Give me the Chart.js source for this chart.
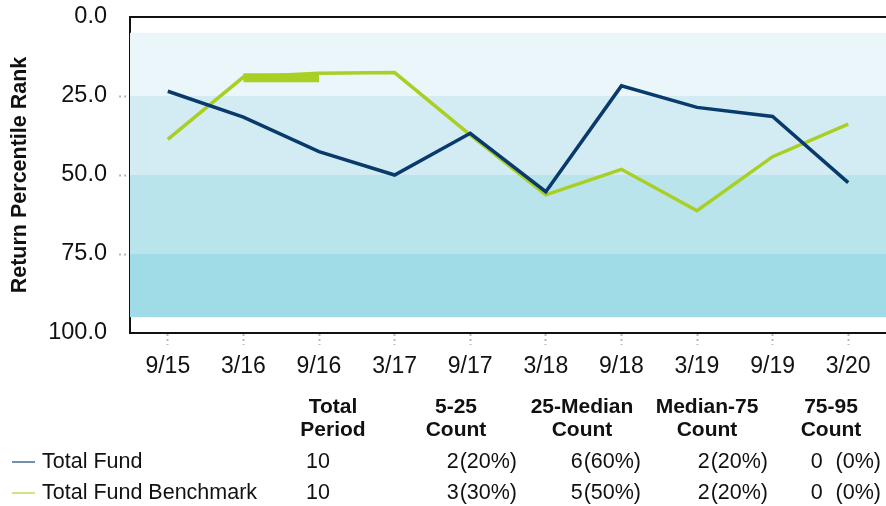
<!DOCTYPE html>
<html>
<head>
<meta charset="utf-8">
<script src="https://cdn.jsdelivr.net/npm/chart.js@4.4.1/dist/chart.umd.min.js"></script>
<style>
  html, body { margin: 0; padding: 0; background: #fff; }
  #wrap { position: relative; width: 886px; height: 506px; }
</style>
</head>
<body>
<div id="wrap"><canvas id="rank-chart" width="886" height="506"></canvas></div>
<script>
// Periods and percentile ranks (0 = best, shown at top)
const periods = ['9/15', '3/16', '9/16', '3/17', '9/17', '3/18', '9/18', '3/19', '9/19', '3/20'];
const totalFund = [23.5, 31.7, 42.6, 50.0, 36.8, 55.3, 21.8, 28.6, 31.5, 52.4];
const benchmark = [38.7, 19.0, 17.8, 17.6, 37.3, 56.3, 48.2, 61.3, 44.2, 33.9];
// odd thick stroke on the benchmark between 3/16 and 9/16
const benchmarkThick = [null, 19.2, 19.2, null, null, null, null, null, null, null];

const yTicks = [0, 25, 50, 75, 100];
const bandEdges = [5, 25, 50, 75, 95];

// Summary table
const seriesNames = ['Total Fund', 'Total Fund Benchmark'];
const totalPeriods = [10, 10];
const tableHeaders = [['Total', 'Period'], ['5-25', 'Count'], ['25-Median', 'Count'], ['Median-75', 'Count'], ['75-95', 'Count']];
const fundCounts = [2, 6, 2, 0];
const benchCounts = [3, 5, 2, 0];

const NAVY = '#083a6c';
const GREEN = '#a9cf24';
const bandColors = ['#eaf6f9', '#d3ecf3', '#bae4ec', '#a0dbe8'];
const FONT = "'Liberation Sans', Arial, sans-serif";

// Shaded percentile bands behind the lines
const bandsPlugin = {
    id: 'bands',
    beforeDatasetsDraw(chart) {
        const { ctx, chartArea, scales } = chart;
        ctx.save();
        for (let i = 0; i < bandEdges.length - 1; i++) {
            const y1 = scales.y.getPixelForValue(bandEdges[i]);
            const y2 = scales.y.getPixelForValue(bandEdges[i + 1]);
            ctx.fillStyle = bandColors[i];
            ctx.fillRect(chartArea.left, y1, chartArea.right - chartArea.left, y2 - y1);
        }
        ctx.restore();
    },
    afterDatasetsDraw(chart) {
        // frame: top line (left and bottom come from the axis borders)
        const { ctx, chartArea } = chart;
        ctx.save();
        ctx.strokeStyle = '#111';
        ctx.lineWidth = 2;
        ctx.beginPath();
        ctx.moveTo(chartArea.left - 1, chartArea.top);
        ctx.lineTo(chartArea.right, chartArea.top);
        ctx.stroke();
        ctx.restore();
    },
};

// Summary table under the chart
const tablePlugin = {
    id: 'summaryTable',
    afterDraw(chart) {
        const { ctx } = chart;
        const headerX = [333, 456, 582, 707, 831];
        const headerY = [407, 430];
        const rowY = [462, 493];
        const countRight = [517, 641, 768, 881];
        const colors = [NAVY, GREEN];
        const rows = [fundCounts, benchCounts];

        ctx.save();
        ctx.fillStyle = '#111';
        ctx.textBaseline = 'middle';

        ctx.font = `bold 21px ${FONT}`;
        ctx.textAlign = 'center';
        tableHeaders.forEach((lines, i) => {
            lines.forEach((t, j) => ctx.fillText(t, headerX[i], headerY[j]));
        });

        ctx.font = `21.5px ${FONT}`;
        const pctWidth = ctx.measureText('(00%)').width;
        rows.forEach((counts, r) => {
            const y = rowY[r];
            ctx.strokeStyle = colors[r];
            ctx.globalAlpha = 0.75;
            ctx.lineWidth = 1.5;
            ctx.beginPath();
            ctx.moveTo(12, y);
            ctx.lineTo(35, y);
            ctx.stroke();
            ctx.globalAlpha = 1;

            ctx.textAlign = 'left';
            ctx.fillText(seriesNames[r], 42, y);
            ctx.fillText(String(totalPeriods[r]), 306, y);

            const total = totalPeriods[r];
            counts.forEach((n, c) => {
                const pct = Math.round((n / total) * 100);
                ctx.textAlign = 'right';
                ctx.fillText(`(${pct}%)`, countRight[c], y);
                ctx.fillText(String(n), countRight[c] - pctWidth - 1, y);
            });
        });
        ctx.restore();
    },
};

new Chart(document.getElementById('rank-chart'), {
    type: 'line',
    data: {
        labels: periods,
        datasets: [
            {
                label: 'Total Fund',
                data: totalFund,
                borderColor: NAVY,
                borderWidth: 3.5,
                pointRadius: 0,
                tension: 0,
            },
            {
                label: 'Total Fund Benchmark',
                data: benchmark,
                borderColor: GREEN,
                borderWidth: 3.5,
                pointRadius: 0,
                tension: 0,
            },
            {
                label: 'thick',
                data: benchmarkThick,
                borderColor: GREEN,
                borderWidth: 9,
                borderCapStyle: 'butt',
                pointRadius: 0,
                spanGaps: false,
            },
        ],
    },
    options: {
        responsive: false,
        animation: false,
        layout: { padding: { top: 17, right: 0, left: 0, bottom: 0 } },
        plugins: {
            legend: { display: false },
            tooltip: { enabled: false },
        },
        scales: {
            x: {
                offset: true,
                afterFit: (scale) => {
                    scale.height = 173;
                    scale.paddingLeft = 0;
                    scale.paddingRight = 0;
                },
                border: { display: true, color: '#111', width: 2 },
                grid: {
                    offset: false,
                    drawOnChartArea: false,
                    drawTicks: true,
                    tickLength: 12,
                    tickWidth: 2,
                    tickBorderDash: [2, 3],
                    tickColor: '#b8b8b8',
                },
                ticks: {
                    color: '#111',
                    font: { family: FONT, size: 23 },
                    padding: 8,
                    maxRotation: 0,
                },
            },
            y: {
                reverse: true,
                min: 0,
                max: 100,
                afterFit: (scale) => {
                    scale.width = 130;
                    scale.paddingTop = 0;
                    scale.paddingBottom = 0;
                },
                afterBuildTicks: (scale) => { scale.ticks = yTicks.map((v) => ({ value: v })); },
                border: { display: true, color: '#111', width: 2 },
                grid: {
                    drawOnChartArea: false,
                    drawTicks: true,
                    tickLength: 11,
                    tickWidth: 2,
                    tickBorderDash: [2, 3],
                    tickColor: (c) => (c.tick && (c.tick.value === 0 || c.tick.value === 100) ? 'rgba(0,0,0,0)' : '#b8b8b8'),
                },
                ticks: {
                    color: '#111',
                    font: { family: FONT, size: 23.5 },
                    padding: 12,
                    callback: (v) => Number(v).toFixed(1),
                },
                title: {
                    display: true,
                    text: 'Return Percentile Rank',
                    color: '#111',
                    font: { family: FONT, size: 21.5, weight: 'bold' },
                    padding: { top: 7, bottom: 0 },
                },
            },
        },
    },
    plugins: [bandsPlugin, tablePlugin],
});
</script>
</body>
</html>
